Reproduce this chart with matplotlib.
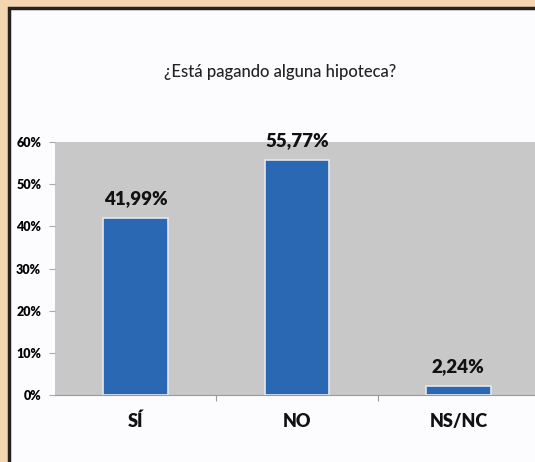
import matplotlib.pyplot as plt
from matplotlib.patches import Rectangle

categories = ["SÍ", "NO", "NS/NC"]
values = [41.99, 55.77, 2.24]
value_labels = ["41,99%", "55,77%", "2,24%"]
yticks = [0, 10, 20, 30, 40, 50, 60]
title = "¿Está pagando alguna hipoteca?"

plt.rcParams["font.family"] = ["Lato", "DejaVu Sans"]

fig = plt.figure(figsize=(5.35, 4.62), dpi=100)
fig.patch.set_facecolor("#f3d5b0")

# white panel with dark frame on left/top
W, H = 535, 462
fig.patches.append(Rectangle((9 / W, -0.1), 1.2, (H - 8) / H + 0.1, transform=fig.transFigure,
                             facecolor="#fcfcfe", edgecolor="#222222", linewidth=2.5, zorder=-1))

ax = fig.add_axes([55 / W, 67 / H, (539 - 55) / W, (395 - 142) / H])
ax.set_zorder(2)
ax.set_facecolor("#c8c8c8")

x = range(len(categories))
ax.bar(x, values, width=0.4, color="#2a68b3", edgecolor="#e6e6f0", linewidth=1.2, zorder=3)
for i, v in enumerate(values):
    ax.text(i, v + 2.5, value_labels[i], ha="center", va="bottom", fontsize=13.5,
            fontweight="heavy", color="#111111")

ax.set_xlim(-0.5, 2.5)
ax.set_ylim(0, 60)
ax.set_yticks(yticks)
ax.set_yticklabels([f"{t}%" for t in yticks], fontsize=9, fontweight="heavy")
ax.set_xticks([0.5, 1.5])
ax.set_xticklabels([])
ax.tick_params(axis="x", length=4, color="#999999")
ax.tick_params(axis="y", length=4, color="#aaaaaa", pad=6)
for i, c in enumerate(categories):
    ax.text(i, -6.3, c, ha="center", va="center", fontsize=13, fontweight="heavy",
            color="#111111", clip_on=False)

for side in ["top", "right", "left"]:
    ax.spines[side].set_visible(False)
ax.spines["bottom"].set_color("#999999")

fig.text(280 / W, 1 - 72 / H, title, ha="center", va="center", fontsize=12,
         fontweight="medium", color="#222222")

fig.savefig("out.png", dpi=100, facecolor=fig.get_facecolor())
